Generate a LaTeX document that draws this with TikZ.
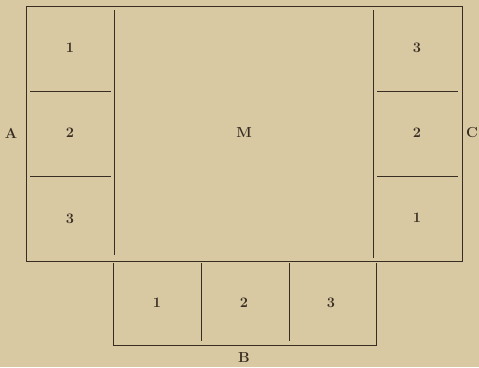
\documentclass[tikz,border=0pt]{standalone}
\usepackage{xcolor}
\definecolor{paper}{RGB}{216,201,162}
\definecolor{ink}{RGB}{55,45,35}
\begin{document}
\begin{tikzpicture}[x=1pt,y=-1pt,
  ln/.style={draw=ink,line width=1pt},
  lnthin/.style={draw=ink,line width=0.9pt},
  lbl/.style={text=ink,font=\fontsize{14.5}{14.5}\selectfont\bfseries,inner sep=0pt}]
\fill[paper] (0,0) rectangle (479,367);
\useasboundingbox (0,0) rectangle (479,367);
% outer frame
\draw[ln] (26,6) rectangle (462,261);
% left column
\draw[lnthin] (114,10) -- (114,255);
\draw[lnthin] (30,91) -- (111,91);
\draw[lnthin] (30,176) -- (111,176);
% right column
\draw[lnthin] (373,10) -- (373,258);
\draw[lnthin] (377,91) -- (458,91);
\draw[lnthin] (377,176) -- (458,176);
% bottom row
\draw[lnthin] (113,263) -- (113,345) -- (376,345) -- (376,263);
\draw[lnthin] (201,263) -- (201,341);
\draw[lnthin] (289,263) -- (289,341);
% labels
\node[lbl] (l1) at (70,48) {1};
\node[lbl] (l2) at (70,133) {2};
\node[lbl] (l3) at (70,219) {3};
\node[lbl] (m) at (244,133) {M};
\node[lbl] (r3) at (417,48) {3};
\node[lbl] (r2) at (417,133) {2};
\node[lbl] (r1) at (417,218) {1};
\node[lbl] (b1) at (157,303) {1};
\node[lbl] (b2) at (244,303) {2};
\node[lbl] (b3) at (331,303) {3};
\node[lbl] (A) at (11,133) {A};
\node[lbl] (C) at (472,133) {C};
\node[lbl] (B) at (244,358) {B};
\end{tikzpicture}
\end{document}
